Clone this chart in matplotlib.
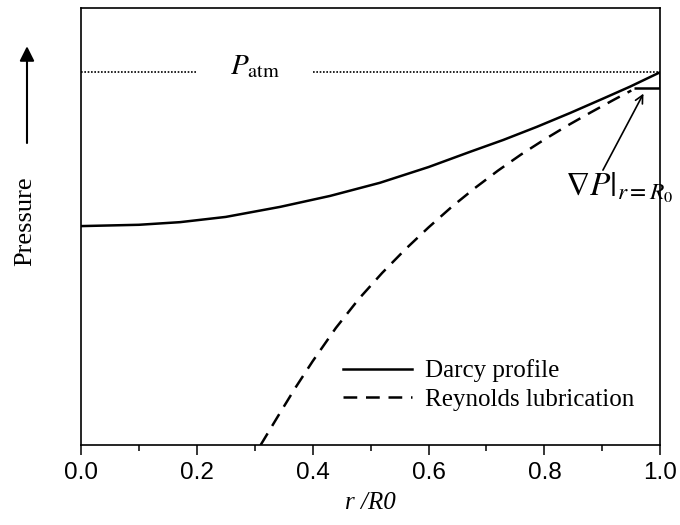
import numpy as np
import matplotlib
matplotlib.use("Agg")
import matplotlib.pyplot as plt

plt.rcParams['mathtext.fontset'] = 'stix'
plt.rcParams['font.family'] = ['Liberation Sans', 'DejaVu Sans']

# pressure profiles (arbitrary units, P_atm ~ 0.853)
r_darcy = [0.0, 0.1, 0.171, 0.25, 0.344, 0.43, 0.516, 0.6, 0.672, 0.729,
           0.787, 0.845, 0.902, 0.948, 1.0]
p_darcy = [0.501, 0.504, 0.510, 0.522, 0.545, 0.570, 0.600, 0.636, 0.671, 0.698,
           0.728, 0.760, 0.793, 0.820, 0.853]

r_reyn = [0.31, 0.34, 0.37, 0.40, 0.44, 0.48, 0.52, 0.56, 0.60, 0.64,
          0.68, 0.72, 0.76, 0.80, 0.84, 0.88, 0.92, 0.95]
p_reyn = [0.0, 0.066, 0.131, 0.192, 0.268, 0.335, 0.394, 0.448, 0.498, 0.545,
          0.588, 0.628, 0.665, 0.699, 0.731, 0.761, 0.790, 0.811]

p_atm = 0.853
atm_left = [0.0, 0.2]
atm_right = [0.4, 1.0]

# little slope triangle at r = R0
tri_r = [0.954, 1.0, 1.0]
tri_p = [0.816, 0.816, 0.853]

serif = 'Liberation Serif'

fig = plt.figure(figsize=(6.8, 5.25), dpi=100)
ax = fig.add_axes([0.119, 0.152, 0.852, 0.833])

ax.plot(r_darcy, p_darcy, color='black', lw=1.8, label='Darcy profile')
ax.plot(r_reyn, p_reyn, color='black', lw=1.8, linestyle=(0, (5.5, 3.5)),
        label='Reynolds lubrication')

ax.plot(atm_left, [p_atm, p_atm], color='black', lw=1.2, linestyle=(0, (1, 1)))
ax.plot(atm_right, [p_atm, p_atm], color='black', lw=1.2, linestyle=(0, (1, 1)))
ax.text(0.257, 0.848, r'$P_{\mathrm{atm}}$', fontsize=21, ha='left', va='baseline')

ax.plot(tri_r, tri_p, color='black', lw=1.8, solid_capstyle='butt')

ax.annotate('', xy=(0.971, 0.804), xytext=(0.901, 0.629),
            arrowprops=dict(arrowstyle='->', color='black', lw=1.2,
                            mutation_scale=14, shrinkA=0, shrinkB=0))
ax.text(0.836, 0.572, r'$\left.\nabla P\right|_{r=R_0}$', fontsize=24,
        ha='left', va='baseline')

ax.set_xlim(0, 1)
ax.set_ylim(0, 1)
ax.set_yticks([])
ax.set_xticks(np.arange(0, 1.01, 0.2))
ax.set_xticks(np.arange(0.1, 1.0, 0.2), minor=True)
ax.tick_params(axis='x', which='major', direction='out', length=7, width=1.1,
               labelsize=17.5, pad=5)
ax.tick_params(axis='x', which='minor', direction='out', length=4, width=1.1)
for s in ax.spines.values():
    s.set_linewidth(1.2)

ax.set_xlabel('r /R0', fontsize=18, family=serif, style='italic', labelpad=6)

leg = ax.legend(loc='upper left', bbox_to_anchor=(0.4525, 0.196), frameon=False,
                borderpad=0, borderaxespad=0, handlelength=2.76, handletextpad=0.5,
                labelspacing=0.25, prop={'family': serif, 'size': 18})

# "Pressure" with an upward arrow
fig.text(0.0368, 0.579, 'Pressure', rotation=90, ha='center', va='center',
         fontsize=19, family=serif)
ax.annotate('', xy=(0.0397, 0.912), xytext=(0.0397, 0.7276),
            xycoords='figure fraction', textcoords='figure fraction',
            arrowprops=dict(arrowstyle='-|>', color='black', lw=1.5,
                            mutation_scale=22, shrinkA=0, shrinkB=0))

fig.savefig('out.png', dpi=100)
